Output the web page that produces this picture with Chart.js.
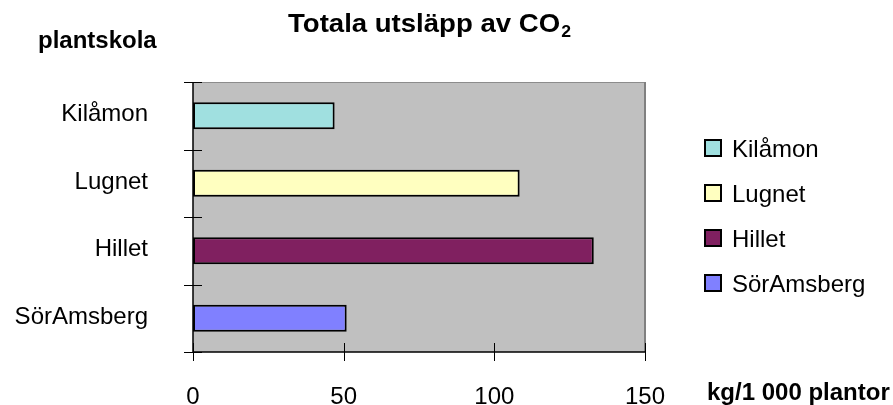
<!DOCTYPE html>
<html>
<head>
<meta charset="utf-8">
<script src="https://cdn.jsdelivr.net/npm/chart.js@4"></script>
<style>
  html, body { margin: 0; padding: 0; background: #ffffff; }
  #wrap { width: 893px; height: 405px; position: relative; }
</style>
</head>
<body>
<div id="wrap"><canvas id="c" width="893" height="405"></canvas></div>
<script>
// ---- data ----
const categories = ['Kilåmon', 'Lugnet', 'Hillet', 'SörAmsberg'];
const emissions = [47, 108.4, 133, 51];
const barColors = ['#a0e0e0', '#ffffc0', '#802060', '#8080ff'];
const xTickValues = [0, 50, 100, 150];
const chartTitle = 'Totala utsläpp av CO';
const chartTitleSub = '2';
const yAxisTitle = 'plantskola';
const xAxisTitle = 'kg/1 000 plantor';

const FONT = "'Liberation Sans', Arial, sans-serif";

const decorPlugin = {
  id: 'decor',
  beforeDraw(chart) {
    const ctx = chart.ctx;
    const a = chart.chartArea;
    ctx.save();
    ctx.fillStyle = '#ffffff';
    ctx.fillRect(0, 0, chart.width, chart.height);
    ctx.fillStyle = '#c0c0c0';
    ctx.fillRect(a.left, a.top, a.right - a.left, a.bottom - a.top);
    ctx.restore();
  },
  afterDraw(chart) {
    const ctx = chart.ctx;
    const a = chart.chartArea;
    const xs = chart.scales.x;
    const ys = chart.scales.y;
    ctx.save();
    // top & right frame (gray)
    ctx.strokeStyle = '#8c8c8c';
    ctx.lineWidth = 1;
    ctx.beginPath();
    ctx.moveTo(a.left, a.top + 0.5);
    ctx.lineTo(a.right, a.top + 0.5);
    ctx.stroke();
    ctx.strokeStyle = '#808080';
    ctx.lineWidth = 2;
    ctx.beginPath();
    ctx.moveTo(a.right, a.top);
    ctx.lineTo(a.right, a.bottom);
    ctx.stroke();
    // axes (black)
    ctx.strokeStyle = '#000000';
    ctx.lineWidth = 1.5;
    ctx.beginPath();
    ctx.moveTo(a.left, a.top);
    ctx.lineTo(a.left, a.bottom);
    ctx.moveTo(a.left, a.bottom);
    ctx.lineTo(a.right, a.bottom);
    ctx.stroke();
    // tick marks crossing the axes
    ctx.lineWidth = 1;
    ctx.beginPath();
    xs.ticks.forEach(t => {
      const px = Math.round(xs.getPixelForValue(t.value)) + 0.5;
      ctx.moveTo(px, a.bottom - 9);
      ctx.lineTo(px, a.bottom + 9);
    });
    for (let i = 0; i <= categories.length; i++) {
      const py = Math.round(ys.getPixelForValue(i - 0.5)) + 0.5;
      ctx.moveTo(a.left - 9, py);
      ctx.lineTo(a.left + 9, py);
    }
    ctx.stroke();

    // title with subscript
    ctx.fillStyle = '#000000';
    ctx.textBaseline = 'alphabetic';
    ctx.textAlign = 'left';
    ctx.font = 'bold 25px ' + FONT;
    const wMain = ctx.measureText(chartTitle).width;
    ctx.font = 'bold 16px ' + FONT;
    const wSub = ctx.measureText(chartTitleSub).width;
    const sx = 283 / (wMain + wSub + 1);
    ctx.save();
    ctx.translate(288, 32);
    ctx.scale(sx, 1);
    ctx.font = 'bold 25px ' + FONT;
    ctx.fillText(chartTitle, 0, 0);
    ctx.font = 'bold 16px ' + FONT;
    ctx.fillText(chartTitleSub, wMain + 1, 5);
    ctx.restore();

    // axis titles
    ctx.font = 'bold 24px ' + FONT;
    ctx.fillText(yAxisTitle, 38, 48);
    ctx.fillText(xAxisTitle, 707, 400);

    // legend
    const ds = chart.data.datasets[0];
    ctx.font = '24px ' + FONT;
    categories.forEach((lab, i) => {
      const cy = 148 + i * 45;
      ctx.fillStyle = ds.backgroundColor[i];
      ctx.fillRect(704, cy - 9, 18, 18);
      ctx.strokeStyle = '#000000';
      ctx.lineWidth = 2;
      ctx.strokeRect(705, cy - 8, 16, 16);
      ctx.fillStyle = '#000000';
      ctx.fillText(lab, 732, cy + 8.6);
    });
    ctx.restore();
  }
};

new Chart(document.getElementById('c'), {
  type: 'bar',
  data: {
    labels: categories,
    datasets: [{
      data: emissions,
      backgroundColor: barColors,
      borderColor: '#000000',
      borderWidth: 2,
      borderSkipped: false,
      categoryPercentage: 1.0,
      barPercentage: 0.4
    }]
  },
  options: {
    indexAxis: 'y',
    responsive: false,
    animation: false,
    devicePixelRatio: 1,
    layout: { padding: { left: 0, right: 248, top: 82, bottom: 0 } },
    plugins: {
      legend: { display: false },
      title: { display: false },
      tooltip: { enabled: false }
    },
    scales: {
      x: {
        type: 'linear',
        min: 0,
        max: 150,
        afterBuildTicks(scale) {
          scale.ticks = xTickValues.map(v => ({ value: v }));
        },
        afterFit(scale) { scale.height = 53; },
        grid: { display: false },
        border: { display: false },
        ticks: {
          color: '#000000',
          font: { family: FONT, size: 24 },
          padding: 23,
          maxRotation: 0
        }
      },
      y: {
        type: 'category',
        offset: true,
        afterFit(scale) { scale.width = 193; },
        grid: { display: false },
        border: { display: false },
        ticks: {
          color: '#000000',
          font: { family: FONT, size: 24 },
          padding: 37,
          labelOffset: -1,
          crossAlign: 'near'
        }
      }
    }
  },
  plugins: [decorPlugin]
});
</script>
</body>
</html>
